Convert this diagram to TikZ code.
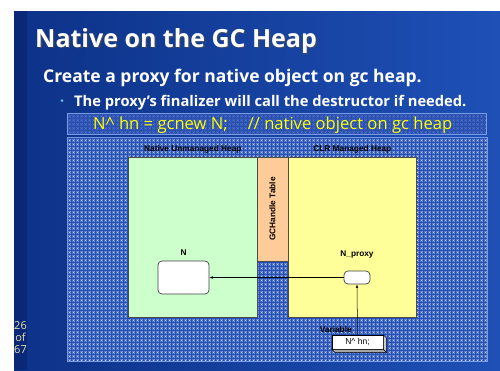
\documentclass[tikz,border=0pt]{standalone}
\usepackage{fontspec}
\setmainfont{Open Sans}
\newfontfamily\diagfont{Liberation Sans}
\usetikzlibrary{positioning,patterns,arrows.meta}
\definecolor{slidedark}{HTML}{0D3288}
\definecolor{slidelight}{HTML}{1E50B6}
\definecolor{stripe}{HTML}{0A2878}
\definecolor{tilebg}{HTML}{2550B8}
\definecolor{tiledot}{HTML}{C4D2F2}
\definecolor{codebg}{HTML}{2A4FAE}
\definecolor{codedot}{HTML}{5276D0}
\definecolor{tileedge}{HTML}{7A9BE6}
\definecolor{nativegreen}{HTML}{CCFFCC}
\definecolor{handleorange}{HTML}{FFCC99}
\definecolor{managedyellow}{HTML}{FFFF99}
\definecolor{codeyellow}{HTML}{FFFF00}
\definecolor{pagenum}{HTML}{E8E2A4}
\definecolor{bulletblue}{HTML}{5FC3F0}
% small crosses in a 4pt grid
\pgfdeclarepatternformonly{tilecross}{\pgfpoint{-0.5pt}{-0.5pt}}{\pgfpoint{4.5pt}{4.5pt}}{\pgfpoint{4pt}{4pt}}{%
  \pgfsetlinewidth{0.55pt}
  \pgfpathmoveto{\pgfpoint{0.6pt}{0.6pt}}\pgfpathlineto{\pgfpoint{2.6pt}{2.6pt}}
  \pgfpathmoveto{\pgfpoint{0.6pt}{2.6pt}}\pgfpathlineto{\pgfpoint{2.6pt}{0.6pt}}
  \pgfusepath{stroke}}
\tikzset{
  heapbox/.style={draw=black!70, line width=0.7pt, anchor=north west, inner sep=0pt},
  heaplabel/.style={font=\diagfont\bfseries\fontsize{8.3}{9}\selectfont, inner sep=0pt},
  objbox/.style={draw=black!75, fill=white, rounded corners=4pt, line width=0.7pt, inner sep=0pt},
  ptrarrow/.style={-{Latex[length=3.5pt,width=2.5pt]}, line width=0.5pt},
  shadowtext/.style={text=black!70, opacity=0.7, anchor=base west, inner sep=0pt},
}
\begin{document}
\begin{tikzpicture}[x=1pt,y=-1pt]
\useasboundingbox (0,0) rectangle (500,370);
\fill[white] (0,0) rectangle (500,370);
% slide background
\shade[left color=slidedark, right color=slidelight] (14,11) rectangle (500,370);
\fill[stripe] (14,11) rectangle (27,370);
% title and text
\node[shadowtext, font=\bfseries\fontsize{25}{28}\selectfont] at (36.5,48.5) {Native on the GC Heap};
\node[anchor=base west, inner sep=0pt, text=white, font=\bfseries\fontsize{25}{28}\selectfont] (title) at (35,47) {Native on the GC Heap};
\node[anchor=base west, inner sep=0pt, text=white, font=\bfseries\fontsize{17.5}{20}\selectfont] (lead) at (43,82) {Create a proxy for native object on gc heap.};
\fill[bulletblue] (62,100.5) circle (1.5);
\node[anchor=base west, inner sep=0pt, text=white, font=\bfseries\fontsize{14.7}{17}\selectfont] (bullet) at (74,106) {The proxy’s finalizer will call the destructor if needed.};
% code line
\fill[codebg] (67,113) rectangle (486,134);
\fill[pattern=tilecross, pattern color=codedot] (67,113) rectangle (486,134);
\draw[tileedge, line width=0.6pt] (67,113) rectangle (486,134);
\node[anchor=base west, inner sep=0pt, text=codeyellow, font=\fontsize{16.6}{18}\selectfont] (code) at (93,129) {N\^{} hn = gcnew N;\hspace{1.2em}// native object on gc heap};
% diagram tiles
\fill[tilebg] (67,137) rectangle (487,361);
\fill[pattern=tilecross, pattern color=tiledot] (67,137) rectangle (487,361);
\draw[tileedge, line width=0.6pt] (67,137) rectangle (487,361);
% heaps
\node[heapbox, fill=nativegreen, minimum width=129, minimum height=160] (native) at (128,157) {};
\node[heapbox, fill=handleorange, minimum width=31, minimum height=104] (handle) at (257,157) {};
\node[heapbox, fill=managedyellow, minimum width=128, minimum height=160] (managed) at (288,157) {};
\node[heaplabel, above=3.5pt of native.north] (nativelabel) {Native Unmanaged Heap};
\node[heaplabel, above=3.5pt of managed.north] (managedlabel) {CLR Managed Heap};
\node[heaplabel, rotate=90] (handlelabel) at (272.5,209) {GCHandle Table};
% objects
\node[objbox, minimum width=51, minimum height=33] (nobj) at (183.5,277.5) {};
\node[heaplabel, above=5pt of nobj] (nlabel) {N};
\node[objbox, minimum width=26, minimum height=13] (proxy) at (357,277.5) {};
\node[heaplabel, above=12pt of proxy] (proxylabel) {N\_proxy};
% variable with 3D edge
\node[draw=black, fill=white, line width=0.5pt, minimum width=51, minimum height=14, inner sep=0pt,
      font=\diagfont\fontsize{8.5}{9}\selectfont] (variable) at (357.5,342) {N\^{} hn;};
\draw[fill=black!20, line width=0.5pt] (variable.north east) -- ++(3,3) -- ([shift={(3,3)}]variable.south east) -- (variable.south east) -- cycle;
\draw[fill=black!35, line width=0.5pt] (variable.south west) -- (variable.south east) -- ([shift={(3,3)}]variable.south east) -- ([shift={(3,3)}]variable.south west) -- cycle;
\node[heaplabel, anchor=south] (varlabel) at ([xshift=4pt,yshift=2pt]variable.north west) {Variable};
% pointers
\draw[ptrarrow] (proxy.west) -- (nobj.east);
\draw[ptrarrow] (variable.north) -- (proxy.south);
% page number
\node[text=pagenum, font=\fontsize{11}{12}\selectfont, inner sep=0pt] (pg) at (20.5,326) {26};
\node[text=pagenum, font=\fontsize{11}{12}\selectfont, inner sep=0pt, below=3pt of pg] (pgof) {of};
\node[text=pagenum, font=\fontsize{11}{12}\selectfont, inner sep=0pt, below=3pt of pgof] (pgtotal) {67};
\end{tikzpicture}
\end{document}
